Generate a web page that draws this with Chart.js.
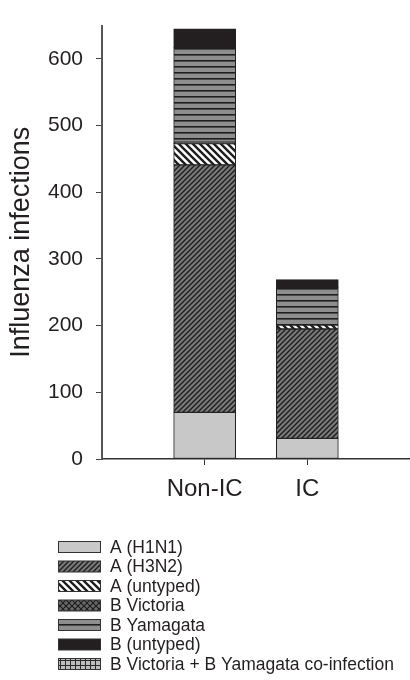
<!DOCTYPE html>
<html>
<head>
<meta charset="utf-8">
<script src="https://cdn.jsdelivr.net/npm/chart.js@4/dist/chart.umd.min.js"></script>
<style>
  html, body { margin: 0; padding: 0; background: #fff; overflow: hidden; }
  #wrap { width: 410px; height: 680px; position: absolute; left: 0; top: 0; }
</style>
</head>
<body>
<div id="wrap"><canvas id="fluChart"></canvas></div>
<script>
// values
const categories = ["Non-IC", "IC"];
const h1n1 = [70, 31];
const h3n2 = [371, 164];
const aUntyped = [32, 6];
const bVictoria = [2, 0];
const bYamagata = [142, 56];
const bUntyped = [28, 12];
const coInfection = [0, 0];
const yTicks = [0, 100, 200, 300, 400, 500, 600];

const FONT = "'Liberation Sans', Arial, Helvetica, sans-serif";
const INK = "#231f20";

// empty slot on each side so the two bars sit at 1/3 and 2/3 of the axis
const xLabels = ["", ...categories, ""];
const pad = (values) => [null, ...values, null];

// small tiles for the hatch fills
function makePattern(size, draw) {
    const c = document.createElement("canvas");
    c.width = size;
    c.height = size;
    const g = c.getContext("2d");
    draw(g, size);
    return g.createPattern(c, "repeat");
}

function slash(bg, line, width) {
    return (g, s) => {
        g.fillStyle = bg;
        g.fillRect(0, 0, s, s);
        g.strokeStyle = line;
        g.lineWidth = width;
        g.beginPath();
        g.moveTo(0, s); g.lineTo(s, 0);
        g.moveTo(-1, 1); g.lineTo(1, -1);
        g.moveTo(s - 1, s + 1); g.lineTo(s + 1, s - 1);
        g.stroke();
    };
}

function backslash(bg, line, width) {
    return (g, s) => {
        g.fillStyle = bg;
        g.fillRect(0, 0, s, s);
        g.strokeStyle = line;
        g.lineWidth = width;
        g.beginPath();
        g.moveTo(0, 0); g.lineTo(s, s);
        g.moveTo(-1, s - 1); g.lineTo(1, s + 1);
        g.moveTo(s - 1, -1); g.lineTo(s + 1, 1);
        g.stroke();
    };
}

const fills = {
    h1n1: "#c8c8c8",
    h3n2: makePattern(5, slash("#7a7a7a", "#1e1e1e", 1.4)),
    aUntyped: makePattern(7, backslash("#ffffff", "#1e1e1e", 2.4)),
    bVictoria: makePattern(6, (g, s) => {
        slash("#6a6a6a", "#1e1e1e", 1.2)(g, s);
        g.beginPath();
        g.moveTo(0, 0); g.lineTo(s, s);
        g.stroke();
    }),
    bYamagata: makePattern(6, (g, s) => {
        g.fillStyle = "#8e8e8e";
        g.fillRect(0, 0, s, s);
        g.fillStyle = "#1e1e1e";
        g.fillRect(0, 0, s, 1.6);
    }),
    bUntyped: "#231f20",
    coInfection: makePattern(5, (g, s) => {
        g.fillStyle = "#bdbdbd";
        g.fillRect(0, 0, s, s);
        g.fillStyle = "#2a2a2a";
        g.fillRect(0, 0, s, 1);
        g.fillRect(0, 0, 1, s);
    })
};

function series(label, values, fill) {
    return {
        label: label,
        data: pad(values),
        backgroundColor: fill,
        borderColor: "#222",
        borderWidth: 1,
        borderSkipped: false,
        barThickness: 62
    };
}

// legend drawn as a stacked column under the plot
const columnLegend = {
    id: "columnLegend",
    afterDraw(chart) {
        const ctx = chart.ctx;
        ctx.save();
        ctx.font = "17.5px " + FONT;
        ctx.textBaseline = "middle";
        ctx.textAlign = "left";
        chart.data.datasets.forEach((ds, i) => {
            const yc = 547 + i * 19.5;
            ctx.fillStyle = ds.backgroundColor;
            ctx.fillRect(58, yc - 5.5, 43, 11);
            ctx.strokeStyle = "#333";
            ctx.lineWidth = 1;
            ctx.strokeRect(58.5, yc - 5.5, 42, 11);
            ctx.fillStyle = INK;
            ctx.fillText(ds.label, 110, yc + 1);
        });
        ctx.restore();
    }
};

const ctx = document.getElementById("fluChart").getContext("2d");
new Chart(ctx, {
    type: "bar",
    data: {
        labels: xLabels,
        datasets: [
            series("A (H1N1)", h1n1, fills.h1n1),
            series("A (H3N2)", h3n2, fills.h3n2),
            series("A (untyped)", aUntyped, fills.aUntyped),
            series("B Victoria", bVictoria, fills.bVictoria),
            series("B Yamagata", bYamagata, fills.bYamagata),
            series("B (untyped)", bUntyped, fills.bUntyped),
            series("B Victoria + B Yamagata co-infection", coInfection, fills.coInfection)
        ]
    },
    options: {
        responsive: true,
        maintainAspectRatio: false,
        animation: false,
        layout: { padding: { top: 12, right: 0, bottom: 0, left: 0 } },
        plugins: {
            legend: { display: false },
            tooltip: { enabled: false }
        },
        scales: {
            x: {
                stacked: true,
                offset: false,
                afterFit: (scale) => {
                    scale.height = 680 - 459;
                    scale.paddingLeft = 0;
                    scale.paddingRight = 0;
                },
                ticks: {
                    color: INK,
                    font: { family: FONT, size: 24 },
                    padding: 10,
                    autoSkip: false,
                    maxRotation: 0
                },
                grid: {
                    drawOnChartArea: false,
                    drawTicks: true,
                    tickLength: 6,
                    offset: false,
                    color: (c) => (c.tick && c.tick.label ? "#333" : "rgba(0,0,0,0)"),
                    lineWidth: 1
                },
                border: { color: "#333", width: 1.5 }
            },
            y: {
                stacked: true,
                min: 0,
                max: 650,
                afterBuildTicks: (scale) => {
                    scale.ticks = yTicks.map((v) => ({ value: v }));
                },
                afterFit: (scale) => { scale.width = 102; },
                ticks: {
                    color: INK,
                    font: { family: FONT, size: 21 },
                    padding: 13
                },
                grid: {
                    drawOnChartArea: false,
                    drawTicks: true,
                    tickLength: 6,
                    color: "#444",
                    lineWidth: 1
                },
                border: { color: "#555", width: 2 },
                title: {
                    display: true,
                    text: "Influenza infections",
                    color: INK,
                    font: { family: FONT, size: 27, weight: "normal" },
                    padding: { top: 5, bottom: 0 }
                }
            }
        }
    },
    plugins: [columnLegend]
});
</script>
</body>
</html>
